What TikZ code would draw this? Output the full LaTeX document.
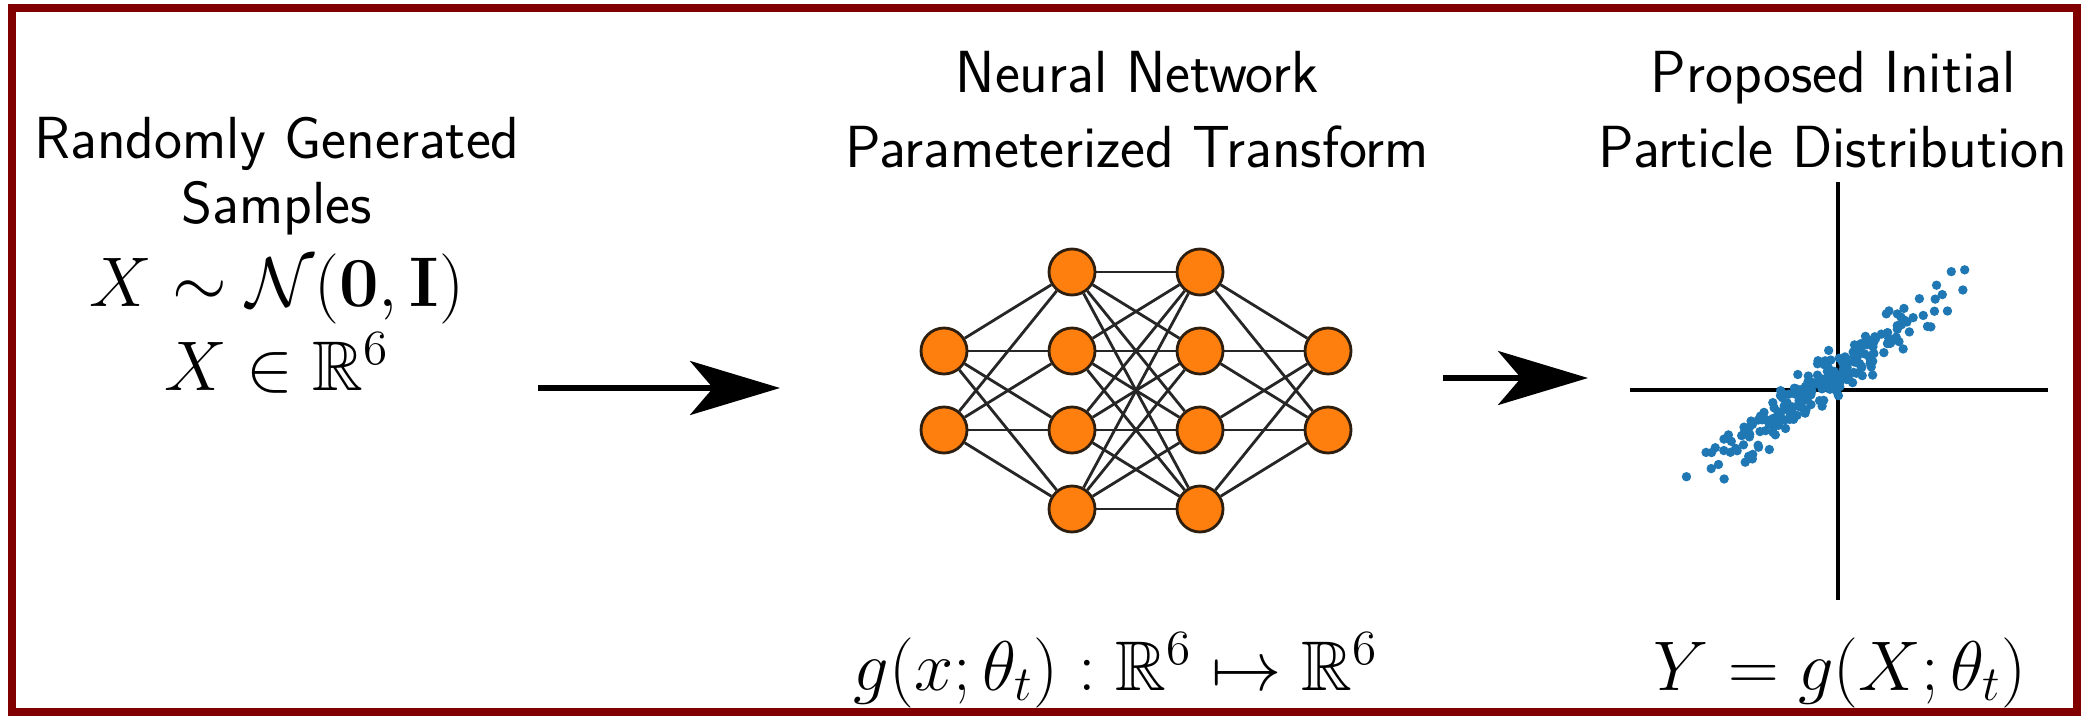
\RequirePackage{fix-cm}
\documentclass[tikz,border=0pt]{standalone}
\usepackage{amssymb}
\usetikzlibrary{arrows.meta, positioning, calc}
\definecolor{framered}{RGB}{128,0,0}
\definecolor{nnorange}{RGB}{255,127,14}
\definecolor{nnedge}{RGB}{45,30,15}
\definecolor{dotblue}{RGB}{31,119,180}
\tikzset{
    caption/.style={font=\fontsize{16.9}{21.3}\selectfont\sffamily, align=center,
        anchor=base, inner sep=0pt},
    formula/.style={font=\fontsize{20}{24}\selectfont, anchor=base, inner sep=0pt},
    neuron/.style={circle, draw=nnedge, fill=nnorange, line width=0.8pt,
        minimum size=0.46cm, inner sep=0pt},
    link/.style={line width=0.8pt, black!85},
    flow/.style={-{Stealth[length=0.9cm, width=0.54cm, inset=0.23cm]}, line width=1.5pt},
    axisline/.style={line width=1.2pt}
}

\begin{document}
\begin{tikzpicture}

    \useasboundingbox (0,0) rectangle (20.82,7.18);
    \draw[framered, line width=0.08cm] (0.12,0.06) rectangle (20.77,7.10);

    % Input: random samples
    \node[caption, font=\fontsize{16.9}{18.4}\selectfont\sffamily] (src) at (2.77,4.95) {Randomly Generated\\Samples};
    \node[formula] (dist) at (2.77,4.12) {$X \sim \mathcal{N}(\mathbf{0},\mathbf{I})$};
    \node[formula] (dom) at (2.77,3.28) {$X \in \mathbb{R}^6$};

    % Network
    \node[caption] (nntitle) at (11.37,5.51) {Neural Network\\Parameterized Transform};
    \foreach \n/\y in {1/3.67, 2/2.88}
        \node[neuron] (in\n) at (9.44,\y) {};
    \foreach \n/\y in {1/4.46, 2/3.67, 3/2.88, 4/2.09} {
        \node[neuron] (ha\n) at (10.72,\y) {};
        \node[neuron] (hb\n) at (12.00,\y) {};
    }
    \foreach \n/\y in {1/3.67, 2/2.88}
        \node[neuron] (out\n) at (13.28,\y) {};

    \foreach \i in {1,2}
        \foreach \j in {1,...,4}
            \draw[link] (in\i) -- (ha\j);
    \foreach \i in {1,...,4}
        \foreach \j in {1,...,4}
            \draw[link] (ha\i) -- (hb\j);
    \foreach \i in {1,...,4}
        \foreach \j in {1,2}
            \draw[link] (hb\i) -- (out\j);

    \node[formula] (gmap) at (11.16,0.28) {$g(x;\theta_t) : \mathbb{R}^6 \mapsto \mathbb{R}^6$};

    % Output: particle distribution
    \node[caption] (outtitle) at (18.33,5.51) {Proposed Initial\\Particle Distribution};
    \coordinate (orig) at (18.38,3.28);
    \coordinate (xl) at (16.30,3.28);
    \coordinate (xr) at (20.48,3.28);
    \coordinate (yb) at (18.38,1.18);
    \coordinate (yt) at (18.38,5.36);
    \draw[axisline] (xl) -- (xr);
    \draw[axisline] (yb) -- (yt);

    \pgfmathsetseed{31}
    \foreach \k in {1,...,230} {
        \pgfmathsetmacro{\du}{0.56*(rand+rand+rand)-0.12}
        \pgfmathsetmacro{\dv}{0.72*\du+0.17+0.16*(rand+rand)}
        \fill[dotblue] ($(orig)+(\du,\dv)$) circle (0.047);
    }

    \node[formula] (ymap) at (18.40,0.28) {$Y = g(X;\theta_t)$};

    % Arrows
    \coordinate (a1s) at (5.38,3.30);
    \coordinate (a1e) at (7.80,3.30);
    \coordinate (a2s) at (14.43,3.40);
    \coordinate (a2e) at (15.88,3.40);
    \draw[flow] (a1s) -- (a1e);
    \draw[flow] (a2s) -- (a2e);

\end{tikzpicture}
\end{document}
